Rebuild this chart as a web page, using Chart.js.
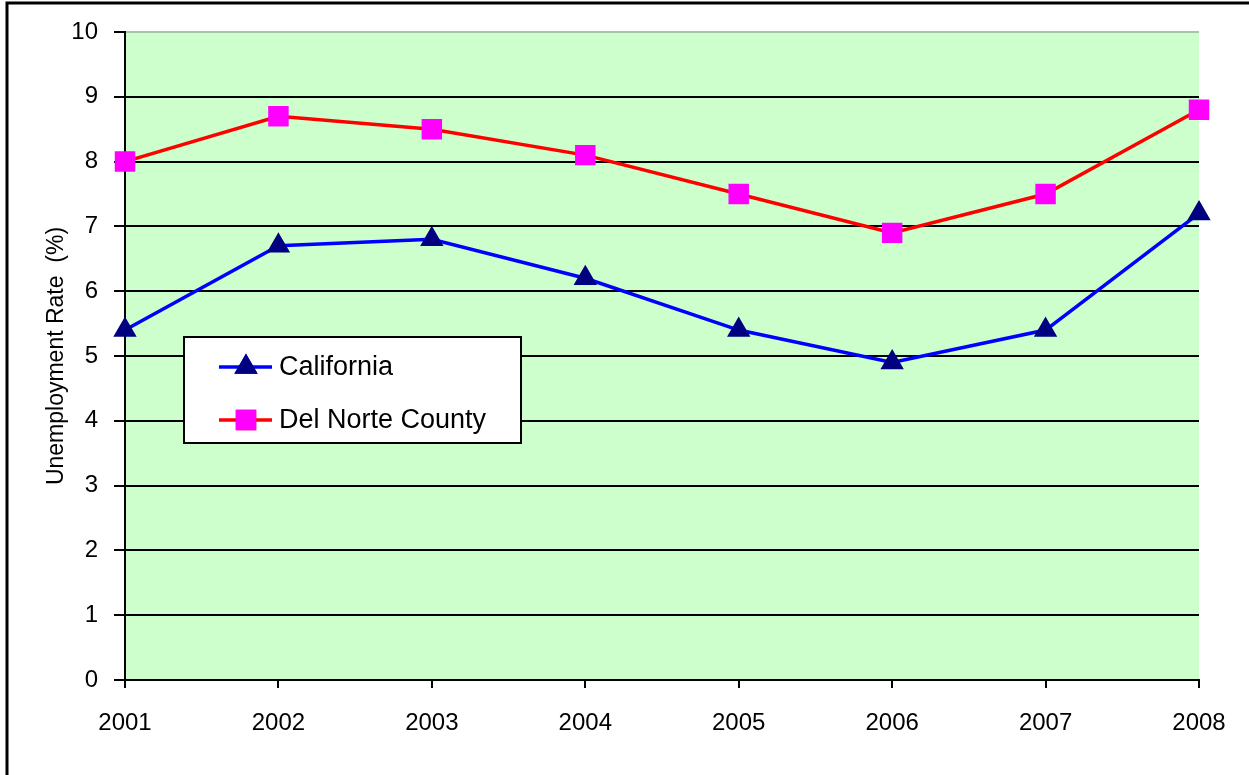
<!DOCTYPE html>
<html>
<head>
<meta charset="utf-8">
<script src="https://cdn.jsdelivr.net/npm/chart.js@4"></script>
<style>
  body { margin: 0; background: #fff; }
</style>
</head>
<body>
<canvas id="rateChart" width="1249" height="775"></canvas>
<script>
const years = ['2001', '2002', '2003', '2004', '2005', '2006', '2007', '2008'];
const californiaRates = [5.4, 6.7, 6.8, 6.2, 5.4, 4.9, 5.4, 7.2];
const delNorteRates = [8.0, 8.7, 8.5, 8.1, 7.5, 6.9, 7.5, 8.8];
const seriesNames = ['California', 'Del Norte County'];

const FONT = 'Arial, "Liberation Sans", sans-serif';

// green plot background + outer frame
const backdrop = {
  id: 'backdrop',
  beforeDraw(chart) {
    const { ctx, chartArea: a } = chart;
    ctx.save();
    ctx.fillStyle = '#ccffcc';
    ctx.fillRect(a.left, a.top, a.right - a.left, a.bottom - a.top);
    ctx.strokeStyle = '#000';
    ctx.lineWidth = 3;
    ctx.beginPath();
    ctx.moveTo(7, chart.height);
    ctx.lineTo(7, 3);
    ctx.lineTo(chart.width, 3);
    ctx.stroke();
    ctx.restore();
  }
};

// boxed legend sitting inside the plot
const boxLegend = {
  id: 'boxLegend',
  afterDatasetsDraw(chart) {
    const { ctx, chartArea: a } = chart;
    const x = a.left + 59, y = a.top + 305, w = 337, h = 106;
    ctx.save();
    ctx.fillStyle = '#fff';
    ctx.fillRect(x, y, w, h);
    ctx.strokeStyle = '#000';
    ctx.lineWidth = 2;
    ctx.strokeRect(x, y, w, h);
    chart.data.datasets.forEach((ds, i) => {
      const cy = y + 30 + i * 53;
      ctx.strokeStyle = ds.borderColor;
      ctx.lineWidth = ds.borderWidth;
      ctx.beginPath();
      ctx.moveTo(x + 35, cy);
      ctx.lineTo(x + 88, cy);
      ctx.stroke();
      Chart.helpers.drawPoint(ctx, {
        pointStyle: ds.pointStyle,
        radius: ds.pointRadius,
        borderWidth: 1
      }, x + 62, cy);
      ctx.fillStyle = ds.pointBackgroundColor;
      ctx.strokeStyle = ds.pointBorderColor;
      ctx.fill();
      ctx.stroke();
      ctx.fillStyle = '#000';
      ctx.font = '27px ' + FONT;
      ctx.textBaseline = 'middle';
      ctx.fillText(ds.label, x + 95, cy + 1);
    });
    ctx.restore();
  }
};

new Chart(document.getElementById('rateChart'), {
  type: 'line',
  data: {
    labels: years,
    datasets: [{
      label: seriesNames[0],
      data: californiaRates,
      borderColor: '#0000ff',
      borderWidth: 3.5,
      pointStyle: 'triangle',
      pointRadius: 10,
      pointBackgroundColor: '#000080',
      pointBorderColor: '#000080',
      tension: 0
    }, {
      label: seriesNames[1],
      data: delNorteRates,
      borderColor: '#ff0000',
      borderWidth: 3.5,
      pointStyle: 'rect',
      pointRadius: 12,
      pointBackgroundColor: '#ff00ff',
      pointBorderColor: '#ff00ff',
      tension: 0
    }]
  },
  options: {
    responsive: false,
    animation: false,
    layout: { padding: { left: 0, top: 32, right: 50, bottom: 0 } },
    plugins: {
      legend: { display: false },
      tooltip: { enabled: false }
    },
    scales: {
      x: {
        offset: false,
        afterFit: scale => { scale.height = 95; },
        grid: { drawOnChartArea: false, drawTicks: true, tickLength: 8, tickColor: '#000', lineWidth: 2 },
        border: { color: '#000', width: 2 },
        ticks: { color: '#000', font: { size: 24, family: FONT }, padding: 21, maxRotation: 0 }
      },
      y: {
        min: 0,
        max: 10,
        afterFit: scale => { scale.width = 125; },
        grid: {
          color: c => c.tick && c.tick.value === 10 ? '#a8c4a8' : '#000',
          tickColor: '#000',
          lineWidth: 2,
          tickLength: 11
        },
        border: { color: '#000', width: 2 },
        ticks: { stepSize: 1, color: '#000', font: { size: 24, family: FONT }, padding: 16 },
        title: {
          display: true,
          text: 'Unemployment Rate  (%)',
          color: '#000',
          font: { size: 23, family: FONT },
          padding: { top: 43, bottom: 0 }
        }
      }
    }
  },
  plugins: [backdrop, boxLegend]
});
</script>
</body>
</html>
